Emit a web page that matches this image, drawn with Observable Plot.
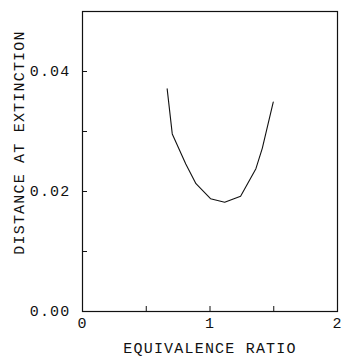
<!DOCTYPE html>
<html>
<head>
<meta charset="utf-8">
<script src="https://cdn.jsdelivr.net/npm/d3@7"></script>
<script src="https://cdn.jsdelivr.net/npm/@observablehq/plot@0.6"></script>
<style>
  html, body { margin: 0; padding: 0; background: #fff; }
  #chart svg { display: block; }
  #chart svg text { letter-spacing: 1.2px; }
</style>
</head>
<body>
<div id="chart"></div>
<script>
const ratio = [0.664, 0.704, 0.81, 0.89, 1.004, 1.115, 1.24, 1.36, 1.41, 1.496];
const distance = [0.0371, 0.0296, 0.0246, 0.0213, 0.0188, 0.0182, 0.0192, 0.0238, 0.0272, 0.0349];
const xTickLabels = [0, 1, 2];
const xMinorTicks = [0.5, 1.5];
const yTickLabels = [0, 0.02, 0.04];
const yMinorTicks = [0.01, 0.03];

const data = ratio.map((r, i) => ({r, d: distance[i]}));
const font = "'Liberation Mono', 'DejaVu Sans Mono', monospace";

const chart = Plot.plot({
  width: 343,
  height: 359,
  marginLeft: 82,
  marginRight: 6,
  marginTop: 11,
  marginBottom: 48,
  style: {fontFamily: font, fontSize: "15px", color: "#111", background: "#fff"},
  x: {domain: [0, 2]},
  y: {domain: [0, 0.05]},
  marks: [
    Plot.frame({stroke: "#111", strokeWidth: 1.2}),
    Plot.tickY(yTickLabels.concat(yMinorTicks), {y: d => d, insetRight: 250, stroke: "#111"}),
    Plot.tickX(xTickLabels.concat(xMinorTicks), {x: d => d, insetTop: 295, stroke: "#111"}),
    Plot.axisY(yTickLabels, {tickSize: 0, tickPadding: 12, tickFormat: d3.format(".2f"), label: null, fontSize: 15}),
    Plot.axisX(xTickLabels, {tickSize: 0, tickPadding: 6, tickFormat: d3.format("d"), label: null, fontSize: 15}),
    Plot.text(["EQUIVALENCE RATIO"], {frameAnchor: "bottom", dy: 41, fontSize: 15, fill: "#111"}),
    Plot.text(["DISTANCE AT EXTINCTION"], {frameAnchor: "left", textAnchor: "middle", dx: -63, dy: -19, rotate: -90, fontSize: 15, fill: "#111"}),
    Plot.line(data, {x: "r", y: "d", stroke: "#111", strokeWidth: 1.1})
  ]
});
document.getElementById("chart").appendChild(chart);
</script>
</body>
</html>
